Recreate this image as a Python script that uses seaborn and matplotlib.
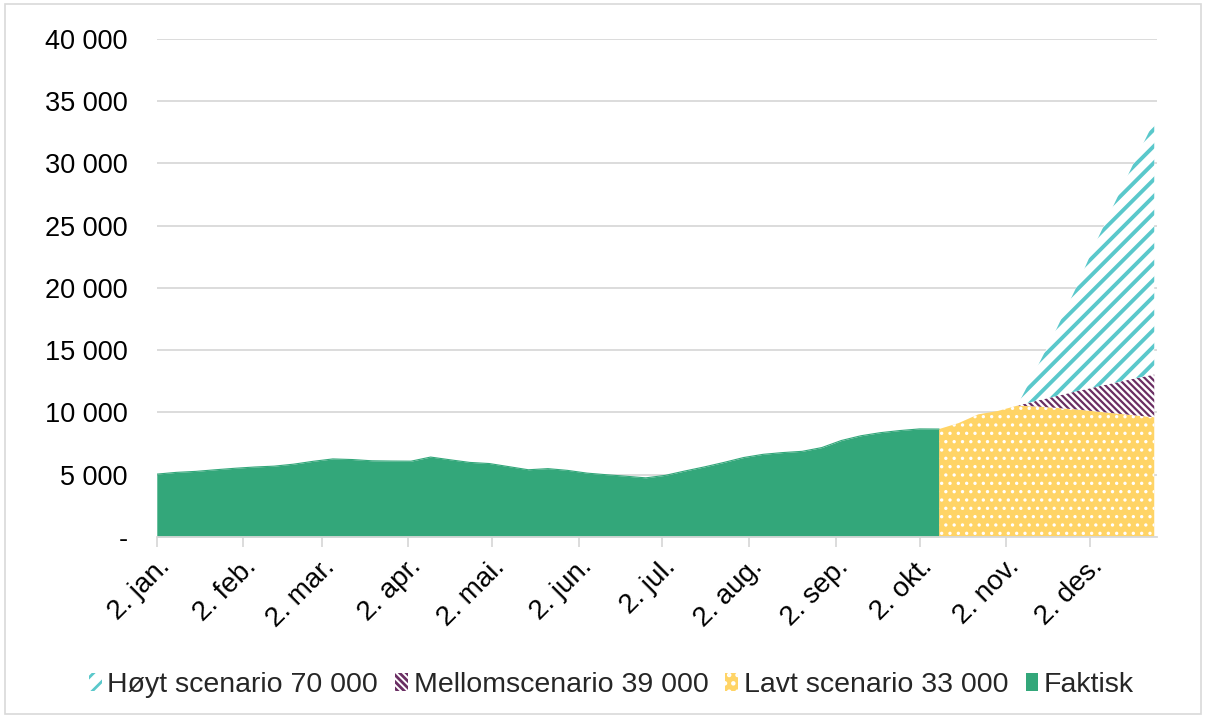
import pandas as pd
import matplotlib
matplotlib.use("Agg")
import matplotlib.pyplot as plt
import matplotlib.patches as mpatches
import matplotlib.ticker as mticker
import seaborn as sns

# weekly values, first week starts 2. jan.
weeks = pd.date_range("2023-01-02", periods=52, freq="7D")

faktisk = [5050, 5190, 5270, 5400, 5520, 5620, 5690, 5850, 6080, 6270,
           6220, 6120, 6100, 6090, 6420, 6200, 5990, 5900, 5650, 5400,
           5490, 5350, 5130, 5000, 4880, 4750, 4950, 5300, 5630, 5990,
           6380, 6640, 6780, 6880, 7180, 7750, 8130, 8380, 8550, 8680, 8670]
# scenarios (cumulative stack tops), lavt from week 40, the others from week 44
lavt = [8670, 9150, 9850, 10120, 10550, 10480, 10370, 10250, 10090, 9930, 9770, 9620]
mellom = [10550, 10950, 11320, 11700, 12050, 12400, 12730, 13060]
hoyt = [10550, 13600, 16700, 20000, 23600, 26900, 30200, 33400]

labels = ["Høyt scenario 70 000", "Mellomscenario 39 000", "Lavt scenario 33 000", "Faktisk"]
month_ticks = [pd.Timestamp(2023, m, 2) for m in range(1, 13)]
month_labels = ["2. jan.", "2. feb.", "2. mar.", "2. apr.", "2. mai.", "2. jun.",
                "2. jul.", "2. aug.", "2. sep.", "2. okt.", "2. nov.", "2. des."]

GREEN = "#33A77A"
YELLOW = "#FFD466"
PURPLE = "#6A2E63"
TEAL = "#5AC8CB"
GRID = "#D9D9D9"

HATCH_TEAL = "//"
HATCH_PURPLE = "\\" * 5
HATCH_YELLOW = ".."

sns.set_theme(style="whitegrid")
plt.rcParams["font.family"] = ["Liberation Sans", "DejaVu Sans"]
plt.rcParams["hatch.linewidth"] = 2.0


def hatch_lw(artist, lw):
    if hasattr(artist, "set_hatch_linewidth"):
        artist.set_hatch_linewidth(lw)
    return artist


fig = plt.figure(figsize=(12.06, 7.18), dpi=100)
ax = fig.add_axes([0.130, 0.2521, 0.8294, 0.6936])

t_fak = weeks[:len(faktisk)]
t_lav = weeks[len(faktisk) - 1:]
t_sc = weeks[len(weeks) - len(mellom):]
lav_sc = lavt[len(lavt) - len(mellom):]

sns.lineplot(x=t_fak, y=faktisk, ax=ax, color=GREEN, linewidth=0.8)
ax.fill_between(t_fak, 0, faktisk, facecolor=GREEN, linewidth=0)
hatch_lw(ax.fill_between(t_lav, 0, lavt, facecolor=YELLOW, edgecolor="white",
                         hatch=HATCH_YELLOW, linewidth=0), 1.2)
hatch_lw(ax.fill_between(t_sc, lav_sc, mellom, facecolor="white", edgecolor=PURPLE,
                         hatch=HATCH_PURPLE, linewidth=0), 1.6)
hatch_lw(ax.fill_between(t_sc, mellom, hoyt, facecolor="white", edgecolor=TEAL,
                         hatch=HATCH_TEAL, linewidth=0), 2.8)

ax.set_xlabel("")
ax.set_ylabel("")
ax.set_xlim(weeks[0], weeks[-1] + pd.Timedelta(days=1))
ax.set_ylim(0, 40000)
ax.yaxis.set_major_locator(mticker.MultipleLocator(5000))
ax.yaxis.set_major_formatter(mticker.FuncFormatter(
    lambda v, _: "-" if v == 0 else f"{int(v):,}".replace(",", " ")))
ax.set_xticks(month_ticks)
ax.set_xticklabels(month_labels, rotation=45, ha="right", rotation_mode="anchor")

ax.grid(axis="y", color=GRID, linewidth=1.3)
ax.grid(axis="x", visible=False)
for s in ["left", "right", "top"]:
    ax.spines[s].set_visible(False)
ax.spines["bottom"].set_color(GRID)
ax.spines["bottom"].set_linewidth(1.3)
ax.set_axisbelow(True)
ax.tick_params(axis="x", length=7, width=1.3, labelsize=20, pad=5, bottom=True,
               colors="black")
ax.tick_params(axis="x", color=GRID)
ax.tick_params(axis="y", length=0, labelsize=19.5, pad=21, colors="black")

handles = [
    hatch_lw(mpatches.Patch(facecolor="white", edgecolor=TEAL, hatch=HATCH_TEAL, linewidth=0), 2.8),
    hatch_lw(mpatches.Patch(facecolor="white", edgecolor=PURPLE, hatch=HATCH_PURPLE, linewidth=0), 1.6),
    hatch_lw(mpatches.Patch(facecolor=YELLOW, edgecolor="white", hatch=HATCH_YELLOW, linewidth=0), 1.2),
    mpatches.Patch(facecolor=GREEN, linewidth=0),
]
fig.legend(handles, labels, loc="center", bbox_to_anchor=(0.507, 0.046), ncol=4,
           frameon=False, fontsize=20.5, handlelength=0.45, handleheight=0.6,
           handletextpad=0.2, columnspacing=0.6)

fig.patches.append(mpatches.Rectangle((0.004, 0.006), 0.992, 0.988, transform=fig.transFigure,
                                      fill=False, edgecolor=GRID, linewidth=1.2))

fig.savefig("out.png", dpi=100, facecolor="white")
